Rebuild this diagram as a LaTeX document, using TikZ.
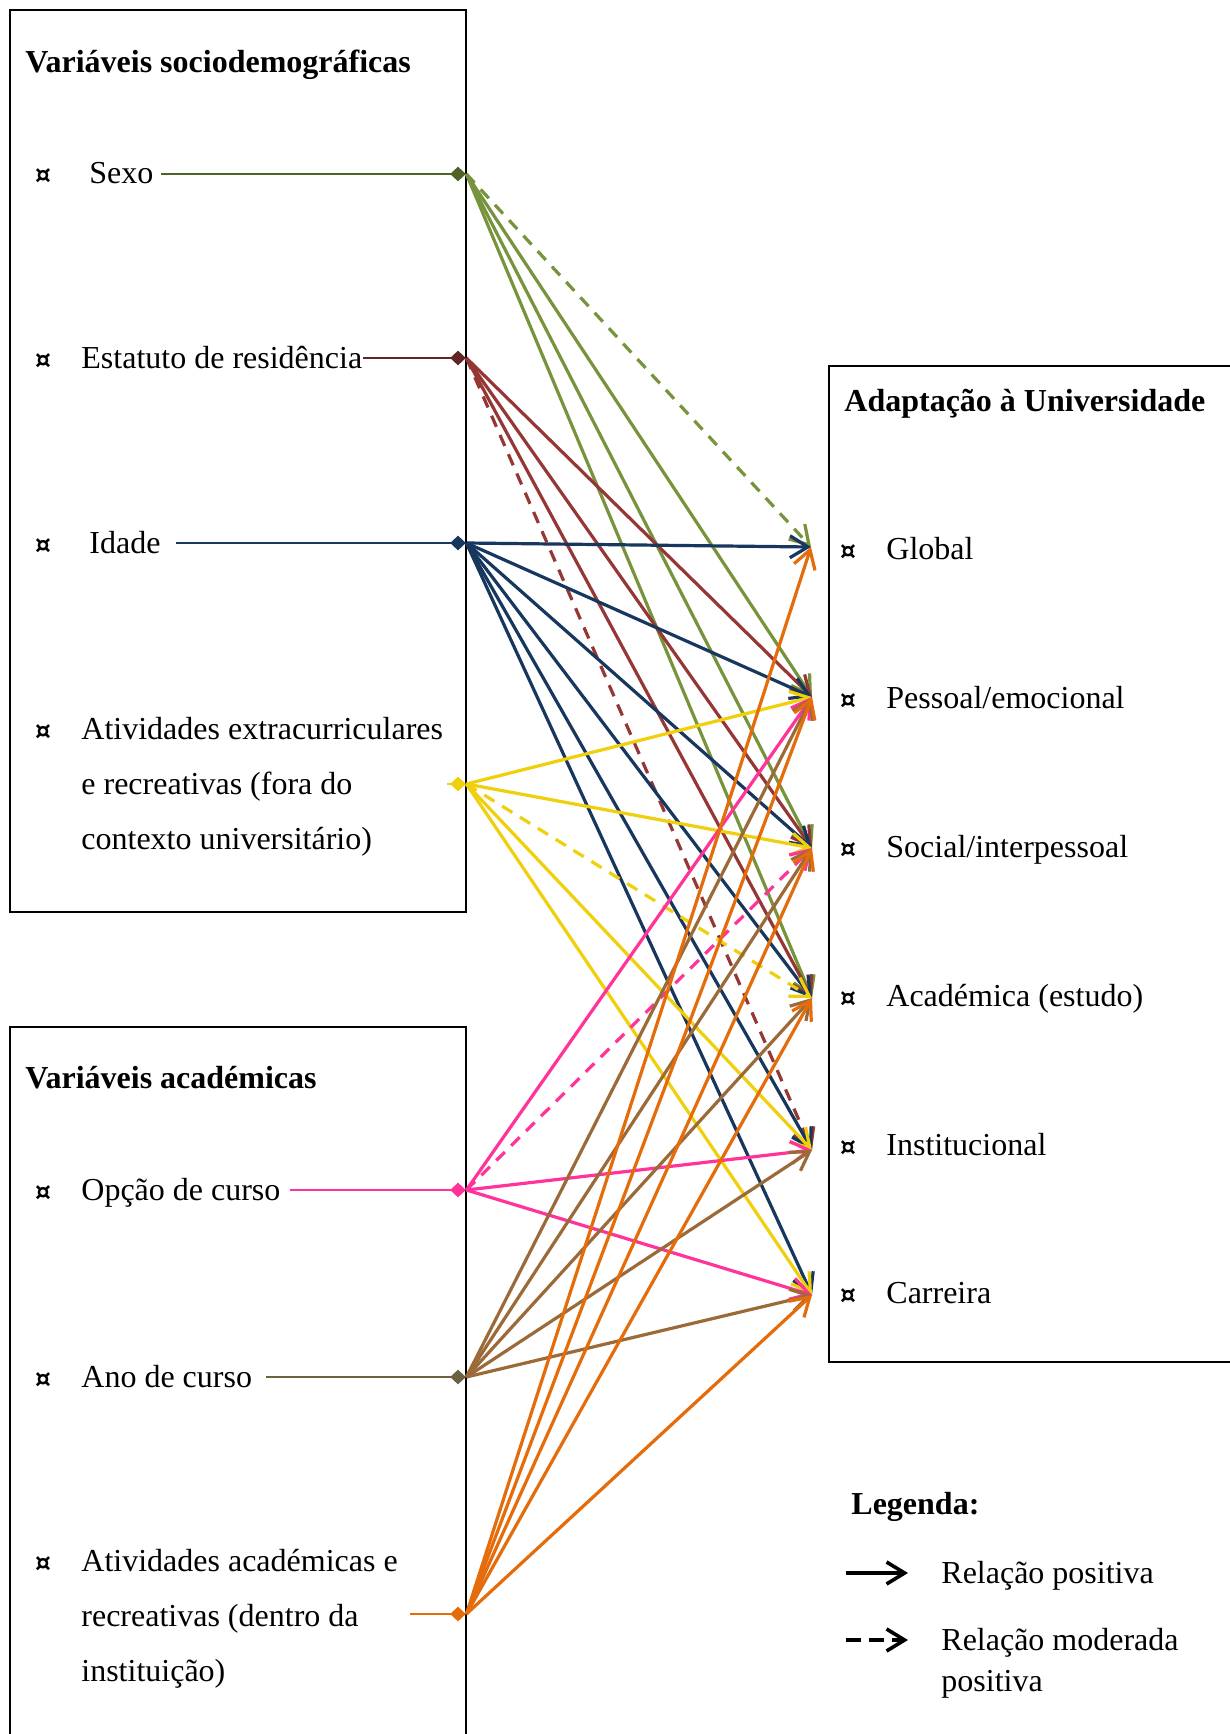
\documentclass[tikz,border=0pt]{standalone}
\usepackage{fontspec}
\setmainfont{Liberation Serif}
\newfontfamily\bulfont{DejaVu Sans}
\usetikzlibrary{arrows.meta,shapes.geometric}
\definecolor{sexoC}{HTML}{77933C}
\definecolor{sexoD}{HTML}{4F6228}
\definecolor{resC}{HTML}{953735}
\definecolor{resD}{HTML}{632523}
\definecolor{idaC}{HTML}{17375E}
\definecolor{yelC}{HTML}{F0CF0C}
\definecolor{pinkC}{HTML}{FF3399}
\definecolor{anoC}{HTML}{9C6A38}
\definecolor{anoD}{HTML}{6A6240}
\definecolor{orgC}{HTML}{E46C0A}
\begin{document}
\begin{tikzpicture}[x=0.5pt,y=-0.5pt,
  txt/.style={anchor=base west, inner sep=0pt, font=\fontsize{16}{27.5}\selectfont},
  ttl/.style={anchor=base west, inner sep=0pt, font=\fontsize{16}{27.5}\selectfont\bfseries},
  bul/.style={anchor=base, inner sep=0pt, font=\bulfont\fontsize{12.5}{14}\selectfont\bfseries},
  box/.style={draw=black, line width=1pt},
  dia/.style={diamond, shape aspect=1, inner sep=0pt, minimum width=8pt, minimum height=7.5pt, draw=none},
  stub/.style={line width=1.2pt},
  rel/.style={line width=1.6pt, -{Straight Barb[length=9pt,width=11pt]}},
  mod/.style={rel, dash pattern=on 6pt off 4.5pt},
  legrel/.style={line width=1.8pt, -{Straight Barb[length=9pt,width=11pt]}},
]
\useasboundingbox (0,0) rectangle (1230,1734);
\clip (0,0) rectangle (1230,1734);
\fill[white] (0,0) rectangle (1230,1734);

% boxes
\draw[box] (10,10) rectangle (466,912);
\draw[box] (10,1027) rectangle (466,1780);
\draw[box] (829,366) rectangle (1260,1362);

% left titles
\node[ttl] (t1) at (25,73) {Variáveis sociodemográficas};
\node[ttl] (t2) at (25,1088) {Variáveis académicas};

% bullets left
\foreach \n/\yy in {b1/184,b2/368,b3/553,b4/739,b5/1200,b6/1387,b7/1571}
  \node[bul] (\n) at (43,\yy) {¤};

% left texts
\node[txt] (sexo) at (89,184) {Sexo};
\node[txt] (res) at (81,368) {Estatuto de residência};
\node[txt] (ida) at (89,553) {Idade};
\node[txt] (ext) at (81,739) {\begin{tabular}[t]{@{}l@{}}Atividades extracurriculares\\e recreativas (fora do\\contexto universitário)\end{tabular}};
\node[txt] (opc) at (81,1200) {Opção de curso};
\node[txt] (ano) at (81,1387) {Ano de curso};
\node[txt] (aca) at (81,1571) {\begin{tabular}[t]{@{}l@{}}Atividades académicas e\\recreativas (dentro da\\instituição)\end{tabular}};

% diamonds
\node[dia, fill=sexoD] (dSexo) at (458,174) {};
\node[dia, fill=resD] (dRes) at (458,358) {};
\node[dia, fill=idaC] (dIda) at (458,543) {};
\node[dia, fill=yelC] (dExt) at (458,784) {};
\node[dia, fill=pinkC] (dOpc) at (458,1190) {};
\node[dia, fill=anoD] (dAno) at (458,1377) {};
\node[dia, fill=orgC] (dAca) at (458,1614) {};

% stub start points
\coordinate (sSexo) at (161,174);
\coordinate (sRes) at (363,358);
\coordinate (sIda) at (176,543);
\coordinate (sExt) at (447,784);
\coordinate (sOpc) at (290,1190);
\coordinate (sAno) at (266,1377);
\coordinate (sAca) at (410,1614);

\draw[stub, sexoD] (sSexo) -- (dSexo.center);
\draw[stub, resD] (sRes) -- (dRes.center);
\draw[stub, idaC] (sIda) -- (dIda.center);
\draw[stub, yelC] (sExt) -- (dExt.center);
\draw[stub, pinkC] (sOpc) -- (dOpc.center);
\draw[stub, anoD] (sAno) -- (dAno.center);
\draw[stub, orgC] (sAca) -- (dAca.center);

% right box
\node[ttl] (t3) at (844,411) {Adaptação à Universidade};
\foreach \n/\yy/\tt in {rG/559/Global, rP/708/Pessoal\slash emocional, rS/857/Social\slash interpessoal, rA/1006/Académica (estudo), rI/1155/Institucional, rC/1303/Carreira}{
  \node[bul] (b\n) at (848,\yy) {¤};
  \node[txt] (\n) at (886,\yy) {\tt};
}

% targets
\coordinate (tG) at (811,547);
\coordinate (tP) at (812,697);
\coordinate (tS) at (812,848);
\coordinate (tA) at (812,998);
\coordinate (tI) at (812,1150);
\coordinate (tC) at (812,1295);

% Sexo
\draw[mod, sexoC] (dSexo.east) -- (tG);
\foreach \t in {tP,tS,tA} \draw[rel, sexoC] (dSexo.east) -- (\t);
% Estatuto
\draw[mod, resC] (dRes.east) -- (tI);
\foreach \t in {tP,tS,tA} \draw[rel, resC] (dRes.east) -- (\t);
% Idade
\foreach \t in {tG,tP,tS,tA,tI,tC} \draw[rel, idaC] (dIda.east) -- (\t);
% Extracurriculares
\draw[mod, yelC] (dExt.east) -- (tA);
\foreach \t in {tP,tS,tI,tC} \draw[rel, yelC] (dExt.east) -- (\t);
% Opcao
\draw[mod, pinkC] (dOpc.east) -- (tS);
\foreach \t in {tP,tI,tC} \draw[rel, pinkC] (dOpc.east) -- (\t);
% Ano
\foreach \t in {tP,tS,tA,tI,tC} \draw[rel, anoC] (dAno.east) -- (\t);
% Academicas
\foreach \t in {tG,tP,tS,tA,tC} \draw[rel, orgC] (dAca.east) -- (\t);

% legend
\node[ttl] (leg) at (851,1514) {Legenda:};
\coordinate (l1a) at (846,1573);
\coordinate (l1b) at (908,1573);
\coordinate (l2a) at (846,1640);
\coordinate (l2b) at (908,1640);
\draw[legrel, black] (l1a) -- (l1b);
\draw[legrel, black, dash pattern=on 7.5pt off 4pt] (l2a) -- (l2b);
\node[txt] (lt1) at (941,1583) {Relação positiva};
\node[txt] (lt2) at (941,1650) {\begin{tabular}[t]{@{}l@{}}Relação moderada\\[-7pt]positiva\end{tabular}};
\end{tikzpicture}
\end{document}
